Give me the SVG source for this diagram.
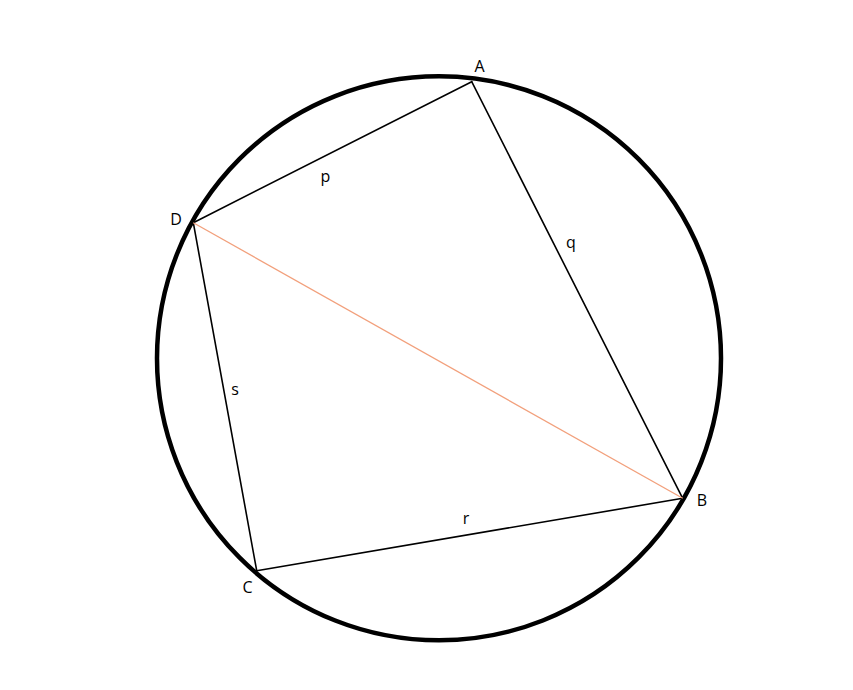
<svg xmlns="http://www.w3.org/2000/svg" width="853" height="690" viewBox="0 0 853 690">
<style>
.lbl{font-family:"Open Sans","Liberation Sans",sans-serif;font-size:16px;fill:#000;text-anchor:middle}
.side{stroke:#000;stroke-width:1.6;fill:none;stroke-linecap:round}
.diag{stroke:#f2a07c;stroke-width:1.3;fill:none}
</style>
<rect width="853" height="690" fill="#fff"/>
<g id="circle"><circle cx="439" cy="358.3" r="282" fill="none" stroke="#000" stroke-width="4.5"/></g>
<g id="connectors">
<line class="side" x1="471.7" y1="81.7" x2="193.3" y2="222.7"/>
<line class="side" x1="471.7" y1="81.7" x2="682.7" y2="498.3"/>
<line class="side" x1="682.7" y1="498.3" x2="256.7" y2="570.7"/>
<line class="side" x1="256.7" y1="570.7" x2="193.3" y2="222.7"/>
<line class="diag" x1="193.3" y1="222.7" x2="682.7" y2="498.3"/>
</g>
<g id="A"><text class="lbl" x="479.5" y="72">A</text></g>
<g id="B"><text class="lbl" x="702" y="506">B</text></g>
<g id="C"><text class="lbl" x="247.5" y="592.5">C</text></g>
<g id="D"><text class="lbl" x="176" y="225">D</text></g>
<g id="label-p"><text class="lbl" x="325.5" y="182">p</text></g>
<g id="label-q"><text class="lbl" x="571" y="248">q</text></g>
<g id="label-r"><text class="lbl" x="466" y="524">r</text></g>
<g id="label-s"><text class="lbl" x="235" y="395">s</text></g>
</svg>
